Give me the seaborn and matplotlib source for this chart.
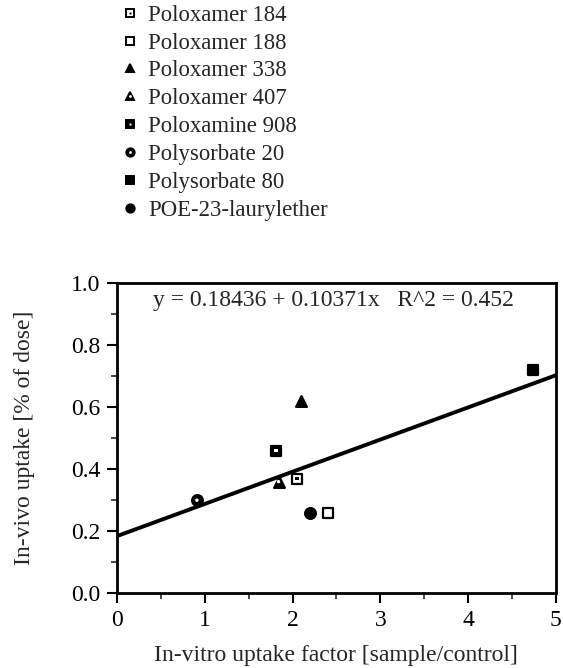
import numpy as np
import pandas as pd
import seaborn as sns
import matplotlib.pyplot as plt
from matplotlib.legend_handler import HandlerTuple
from matplotlib.ticker import MultipleLocator

# Data
compounds = ["Poloxamer 184", "Poloxamer 188", "Poloxamer 338", "Poloxamer 407",
             "Poloxamine 908", "Polysorbate 20", "Polysorbate 80", "POE-23-laurylether"]
in_vitro = [2.05, 2.40, 2.10, 1.84, 1.81, 0.91, 4.74, 2.20]
in_vivo = [0.37, 0.26, 0.62, 0.36, 0.46, 0.30, 0.72, 0.26]

# Regression reported in the figure
intercept = 0.18436
slope = 0.10371
r2 = 0.452
fit_x = [0, 5]

df = pd.DataFrame({"compound": compounds, "x": in_vitro, "y": in_vivo})

sns.set_theme(style="ticks")
plt.rcParams["font.family"] = ["Liberation Serif", "DejaVu Serif"]

fig = plt.figure(figsize=(5.63, 6.68), dpi=100)
ax = fig.add_axes([0.208, 0.112, 0.779, 0.464])

# marker: (shape, face, inner dot colour or None)
styles = {
    "Poloxamer 184": ("s", "white", "black"),
    "Poloxamer 188": ("s", "white", None),
    "Poloxamer 338": ("^", "black", None),
    "Poloxamer 407": ("^", "black", "white"),
    "Poloxamine 908": ("s", "black", "white"),
    "Polysorbate 20": ("o", "black", "white"),
    "Polysorbate 80": ("s", "black", None),
    "POE-23-laurylether": ("o", "black", None),
}

# fitted line
fit_df = pd.DataFrame({"x": fit_x, "y": [intercept + slope * v for v in fit_x]})
sns.lineplot(data=fit_df, x="x", y="y", color="black", linewidth=2.8, ax=ax, zorder=2)

handles = []
for _, row in df.iterrows():
    shape, face, dot = styles[row["compound"]]
    sub = df[df["compound"] == row["compound"]]
    sns.scatterplot(data=sub, x="x", y="y", marker=shape, s=60, color=face,
                    edgecolor="black", linewidth=1.6, ax=ax, zorder=3, legend=False)
    h1 = plt.Line2D([], [], marker=shape, ls="", markersize=6, markerfacecolor=face,
                    markeredgecolor="black", markeredgewidth=1.4)
    if dot is not None:
        sns.scatterplot(data=sub, x="x", y="y", marker="s" if shape == "s" else "o",
                        s=6, color=dot, edgecolor="none", ax=ax, zorder=4, legend=False)
        h2 = plt.Line2D([], [], marker="s" if shape == "s" else "o", ls="",
                        markersize=2.0, markerfacecolor=dot, markeredgecolor="none")
        handles.append((h1, h2))
    else:
        handles.append(h1)

ax.set_xlim(0, 5)
ax.set_ylim(0, 1.0)
ax.xaxis.set_major_locator(MultipleLocator(1))
ax.xaxis.set_minor_locator(MultipleLocator(0.5))
ax.yaxis.set_major_locator(MultipleLocator(0.2))
ax.yaxis.set_minor_locator(MultipleLocator(0.1))
ax.yaxis.set_major_formatter(plt.FormatStrFormatter("%.1f"))
ax.tick_params(which="major", direction="out", length=7, width=1.5, labelsize=17,
               colors="black", pad=5)
ax.tick_params(which="minor", direction="out", length=4, width=1.2)
for sp in ax.spines.values():
    sp.set_linewidth(2)
    sp.set_color("black")

ax.set_xlabel("In-vitro uptake factor [sample/control]", fontsize=17, labelpad=10)
ax.set_ylabel("In-vivo uptake [% of dose]", fontsize=17, labelpad=26)

ax.text(0.41, 0.945, "y = 0.18436 + 0.10371x   R^2 = %.3f" % r2, fontsize=17,
        va="center", ha="left")

fig.legend(handles, compounds, loc="upper left", bbox_to_anchor=(0.206, 0.993),
           frameon=False, fontsize=16.4, labelspacing=0.3, handletextpad=0.2,
           handlelength=1.2, borderpad=0, borderaxespad=0,
           handler_map={tuple: HandlerTuple(ndivide=1, pad=0)})

fig.savefig("out.png", dpi=100)
